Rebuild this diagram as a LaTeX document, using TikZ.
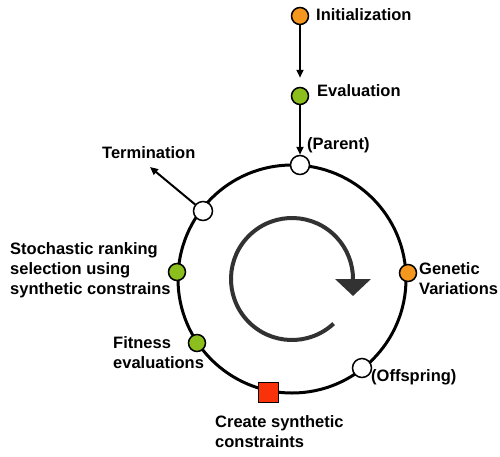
\documentclass[tikz,border=0pt]{standalone}
\usepackage{fontspec}
\setmainfont{Liberation Sans}
\usetikzlibrary{arrows.meta}
\definecolor{dotorange}{RGB}{245,150,30}
\definecolor{dotgreen}{RGB}{140,190,30}
\definecolor{dotred}{RGB}{250,50,10}
\definecolor{cyclegray}{RGB}{50,50,50}
\begin{document}
\begin{tikzpicture}[x=1pt,y=-1pt,
  dot/.style={circle,draw=black,line width=1.5pt,minimum size=17pt,inner sep=0pt},
  lbl/.style={font=\bfseries\fontsize{16.5}{20}\selectfont,inner sep=0pt,align=left},
  flow/.style={line width=2pt,-{Triangle[width=7pt,length=8pt]}}]
\useasboundingbox (0,0) rectangle (500,456);
\coordinate (c) at (292,279);
\draw[line width=3pt] (c) circle[radius=114];
% inner cycle arrow
\draw[line width=4pt,cyclegray,-{Triangle[width=35pt,length=17pt]}]
  ([shift={(47:61)}]c) arc[start angle=47,end angle=360,radius=61] -- ++(0,17);
% nodes
\node[dot,fill=dotorange] (init) at (300,16) {};
\node[dot,fill=dotgreen] (eval) at (300,96) {};
\node[dot,fill=white,minimum size=19pt] (parent) at (300,165) {};
\node[dot,fill=white,minimum size=19pt] (term) at (203,211) {};
\node[dot,fill=dotgreen] (stoch) at (177,272) {};
\node[dot,fill=dotgreen] (fit) at (197,343) {};
\node[dot,fill=dotorange] (gen) at (408,273) {};
\node[dot,fill=white,minimum size=19pt] (off) at (362,368) {};
\node[rectangle,draw=black,line width=1pt,fill=dotred,minimum size=20pt,inner sep=0pt] (create) at (268,392) {};
\coordinate (termend) at (150,167);
% connectors
\draw[flow,shorten >=9pt] (init) -- (eval);
\draw[flow] (eval) -- (parent);
\draw[flow] (term) -- (termend);
% labels
\node[lbl,anchor=base west] (tinit) at (316,20) {Initialization};
\node[lbl,anchor=base west] (teval) at (317,96) {Evaluation};
\node[lbl,anchor=base west] (tparent) at (307,149) {(Parent)};
\node[lbl,anchor=base west] (tterm) at (102,158) {Termination};
\node[lbl,anchor=west] (tstoch) at (10,270) {Stochastic ranking\\selection using\\synthetic constrains};
\node[lbl,anchor=west] (tfit) at (113,353) {Fitness\\evaluations};
\node[lbl,anchor=west] (tgen) at (419,279) {Genetic\\Variations};
\node[lbl,anchor=base west] (toff) at (371,381) {(Offspring)};
\node[lbl,anchor=west] (tcreate) at (215,432) {Create synthetic\\constraints};
\end{tikzpicture}
\end{document}
